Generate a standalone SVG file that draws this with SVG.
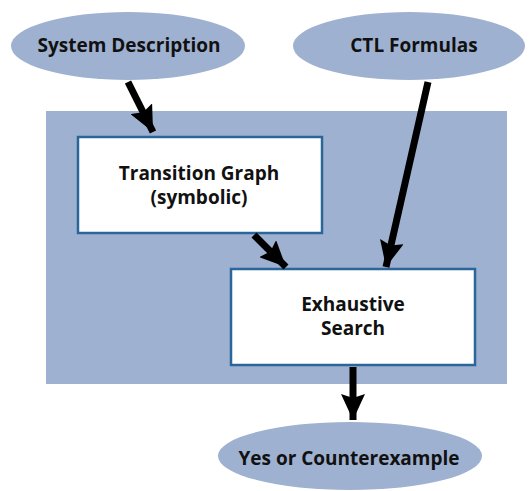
<svg xmlns="http://www.w3.org/2000/svg" width="530" height="491" viewBox="0 0 530 491">
<style>
.ell{fill:#9fb1d0;}
.box{fill:#ffffff;stroke:#2a6699;stroke-width:2.5;}
.t{font-family:"Open Sans","Liberation Sans",sans-serif;font-weight:700;font-size:19px;fill:#111;text-anchor:middle;}
.c{stroke:#000;stroke-width:7;fill:none;}
</style>
<defs>
<marker id="ah" markerUnits="userSpaceOnUse" markerWidth="28" markerHeight="24" refX="26" refY="12" orient="auto">
<polygon points="0,0 26,12 0,24 4,12" fill="#000"/>
</marker>
</defs>
<rect id="bg" x="46" y="111" width="461" height="273" fill="#9fb1d0"/>
<g id="n-sysdesc"><ellipse class="ell" cx="128" cy="46" rx="117" ry="34"/><text class="t" x="129" y="52">System Description</text></g>
<g id="n-ctl"><ellipse class="ell" cx="409" cy="46" rx="116" ry="34"/><text class="t" x="414" y="52">CTL Formulas</text></g>
<g id="n-graph"><rect class="box" x="78" y="137" width="244" height="96"/><text class="t" x="199" y="180">Transition Graph</text><text class="t" x="199" y="204">(symbolic)</text></g>
<g id="n-search"><rect class="box" x="231" y="269" width="244" height="96"/><text class="t" x="353" y="311">Exhaustive</text><text class="t" x="353" y="335">Search</text></g>
<g id="n-result"><ellipse class="ell" cx="350" cy="456" rx="132" ry="34"/><text class="t" x="349" y="465">Yes or Counterexample</text></g>
<g id="connectors">
<line class="c" x1="128" y1="82" x2="153" y2="132" marker-end="url(#ah)"/>
<line class="c" x1="428" y1="82" x2="386" y2="267" marker-end="url(#ah)"/>
<line class="c" x1="254" y1="235" x2="286" y2="267" marker-end="url(#ah)"/>
<line class="c" x1="353" y1="367" x2="353" y2="420" marker-end="url(#ah)"/>
</g>
</svg>
